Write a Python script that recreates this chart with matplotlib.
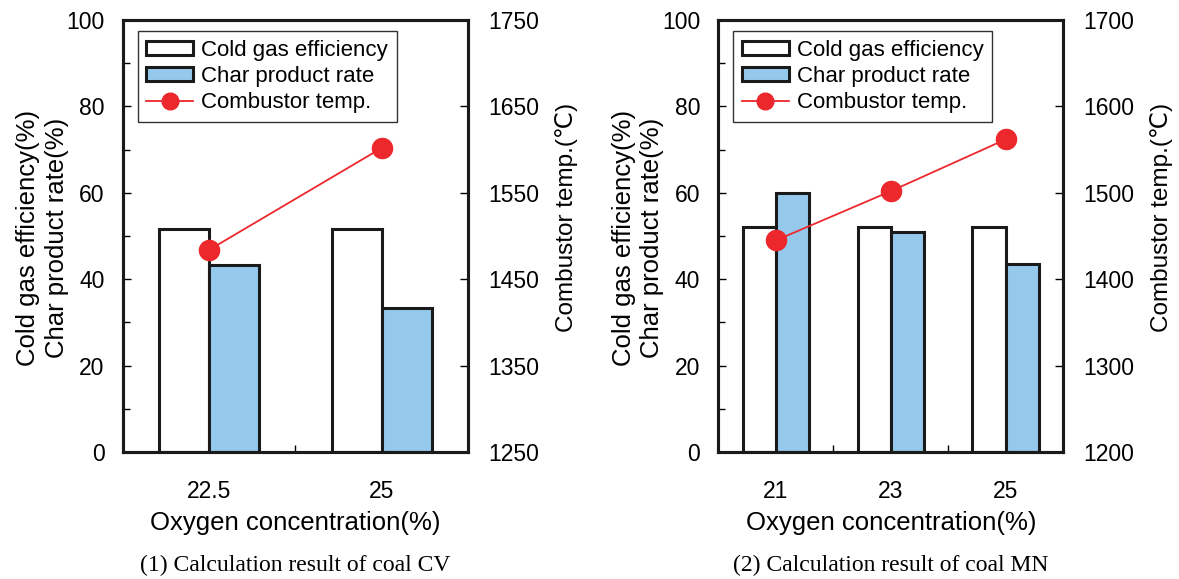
import numpy as np
import matplotlib
matplotlib.use("Agg")
import matplotlib.pyplot as plt
from matplotlib.patches import Patch
from matplotlib.lines import Line2D

plt.rcParams['font.family'] = ['Liberation Sans', 'DejaVu Sans']

# coal CV
cv_oxygen = ["22.5", "25"]
cv_cold_gas = [51.6, 51.6]
cv_char = [43.2, 33.3]
cv_temp = [1484, 1602]

# coal MN
mn_oxygen = ["21", "23", "25"]
mn_cold_gas = [52.0, 52.0, 52.0]
mn_char = [60.0, 50.9, 43.5]
mn_temp = [1445, 1502, 1562]

BLUE = '#95C9EC'
RED = '#EC282D'
EDGE = '#1a1a1a'


def draw_panel(ax, cats, cold, char, temp, tlim, caption):
    x = np.arange(len(cats))
    w = 0.29
    ax.bar(x - w / 2, cold, w, color='white', edgecolor=EDGE, linewidth=2.2, zorder=2)
    ax.bar(x + w / 2, char, w, color=BLUE, edgecolor=EDGE, linewidth=2.2, zorder=2)
    ax.set_xlim(-0.5, len(cats) - 0.5)
    ax.set_ylim(0, 100)
    ax.set_yticks(np.arange(0, 101, 20))
    ax.set_yticks(np.arange(10, 100, 20), minor=True)
    ax.set_xticks(x)
    ax.set_xticklabels(cats)
    ax.set_xticks(np.arange(0.5, len(cats) - 1, 1.0), minor=True)
    ax.tick_params(axis='x', which='major', length=0, pad=20, labelsize=16.5)
    ax.tick_params(axis='x', which='minor', direction='in', length=5, width=1)
    ax.tick_params(axis='y', which='major', direction='in', length=6, width=1,
                   labelsize=16.5, pad=13)
    ax.tick_params(axis='y', which='minor', direction='in', length=5, width=1)
    for s in ax.spines.values():
        s.set_linewidth(2.2)
        s.set_color(EDGE)

    ax.set_ylabel("Cold gas efficiency(%)\nChar product rate(%)", fontsize=18.5,
                  linespacing=1.25)
    ax.yaxis.set_label_coords(-0.233, 0.495)
    ax.yaxis.label.set(va='center', ha='center')
    ax.set_xlabel("Oxygen concentration(%)", fontsize=18.5)
    ax.xaxis.set_label_coords(0.5, -0.18)
    ax.xaxis.label.set(va='baseline')

    ax2 = ax.twinx()
    ax2.plot(x, temp, color=RED, linewidth=1.3, marker='o', markersize=14.5,
             markeredgecolor=RED, zorder=5)
    ax2.set_ylim(*tlim)
    ax2.set_yticks(np.arange(tlim[0], tlim[1] + 1, 100))
    ax2.tick_params(axis='y', direction='in', length=6, width=1, labelsize=16.5, pad=14.5)
    for s in ax2.spines.values():
        s.set_linewidth(2.2)
        s.set_color(EDGE)
    ax2.set_ylabel("Combustor temp.(℃)", fontsize=17.5)
    ax2.yaxis.set_label_coords(1.286, 0.544)
    ax2.yaxis.label.set(va='center', ha='center')

    handles = [
        Patch(facecolor='white', edgecolor=EDGE, linewidth=2.2),
        Patch(facecolor=BLUE, edgecolor=EDGE, linewidth=2.2),
        Line2D([0], [0], color=RED, linewidth=1.3, marker='o', markersize=12),
    ]
    leg = ax2.legend(handles, ["Cold gas efficiency", "Char product rate", "Combustor temp."],
                     loc='upper left', bbox_to_anchor=(0.043, 0.975), borderaxespad=0,
                     fontsize=16, frameon=True, fancybox=False, framealpha=1,
                     edgecolor='#333333', labelspacing=0.24, handlelength=2.1,
                     handleheight=0.6, handletextpad=0.35, borderpad=0.4)
    leg.get_frame().set_linewidth(1.0)

    ax.text(0.5, -0.2755, caption, transform=ax.transAxes, ha='center', va='baseline',
            fontsize=17, family='Liberation Serif')


fig = plt.figure(figsize=(11.79, 5.79), dpi=100)
ax_l = fig.add_axes([0.1041, 0.2193, 0.2929, 0.746])
ax_r = fig.add_axes([0.6093, 0.2193, 0.2926, 0.746])

draw_panel(ax_l, cv_oxygen, cv_cold_gas, cv_char, cv_temp, (1250, 1750),
           "(1) Calculation result of coal CV")
draw_panel(ax_r, mn_oxygen, mn_cold_gas, mn_char, mn_temp, (1200, 1700),
           "(2) Calculation result of coal MN")

fig.savefig('out.png', dpi=100)
